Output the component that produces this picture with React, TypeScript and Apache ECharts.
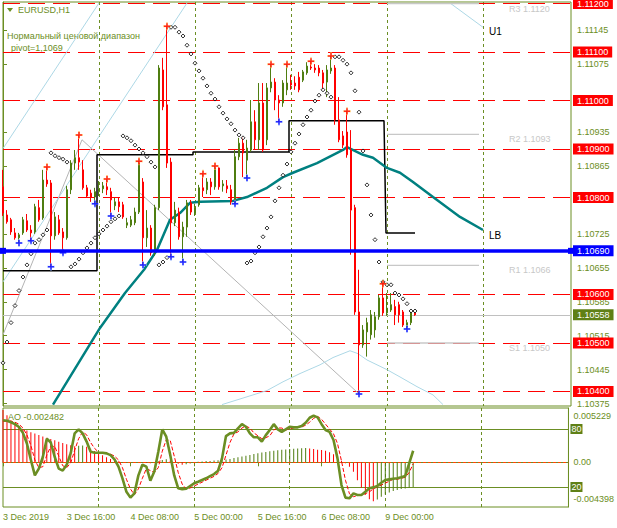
import React, { useEffect, useRef } from 'react';
import * as echarts from 'echarts';

const FONT = '"Liberation Sans", Arial, sans-serif';
const OLIVE = '#6b8e23';
const BULL = '#4f7d10';
const BEAR = '#ff0000';

// ---------- time axis ----------
const dateLabels = ['3 Dec 2019', '3 Dec 16:00', '4 Dec 08:00', '5 Dec 00:00', '5 Dec 16:00', '6 Dec 08:00', '9 Dec 00:00'];
const labelStep = 16;
const dayStep = 24;
const slotCount = 143;

// ---------- EURUSD H1 candles ----------
const opens = [
  1.10822, 1.10764, 1.10754, 1.10727, 1.10717, 1.10727, 1.10752, 1.10733, 1.10729, 1.10779,
  1.10758, 1.10836, 1.10830, 1.10721, 1.10754, 1.10729, 1.10717, 1.10816, 1.10871, 1.10882,
  1.10857, 1.10820, 1.10809, 1.10801, 1.10812, 1.10818, 1.10822, 1.10812, 1.10783, 1.10791,
  1.10785, 1.10743, 1.10743, 1.10748, 1.10770, 1.10832, 1.10717, 1.10737, 1.10686, 1.10779,
  1.11063, 1.10991, 1.10873, 1.10748, 1.10770, 1.10719, 1.10739, 1.10789, 1.10768, 1.10785,
  1.10820, 1.10816, 1.10832, 1.10822, 1.10861, 1.10824, 1.10824, 1.10816, 1.10789, 1.10884,
  1.10912, 1.10877, 1.10898, 1.10956, 1.10919, 1.10995, 1.10919, 1.11026, 1.11038, 1.11001,
  1.10995, 1.11022, 1.11036, 1.11036, 1.11048, 1.11042, 1.11057, 1.11069, 1.11067, 1.11067,
  1.11057, 1.11038, 1.11061, 1.11067, 1.10960, 1.10927, 1.10935, 1.10898, 1.10779, 1.10564,
  1.10496, 1.10523, 1.10517, 1.10527, 1.10554, 1.10593, 1.10562, 1.10568, 1.10575, 1.10579,
  1.10564, 1.10533, 1.10542, 1.10562,
];
const closes = [
  1.10768, 1.10750, 1.10729, 1.10717, 1.10723, 1.10754, 1.10733, 1.10727, 1.10781, 1.10754,
  1.10836, 1.10828, 1.10721, 1.10760, 1.10727, 1.10717, 1.10816, 1.10871, 1.10882, 1.10873,
  1.10820, 1.10803, 1.10801, 1.10812, 1.10818, 1.10824, 1.10816, 1.10795, 1.10791, 1.10781,
  1.10760, 1.10748, 1.10754, 1.10770, 1.10871, 1.10717, 1.10737, 1.10686, 1.10779, 1.11067,
  1.10987, 1.10871, 1.10748, 1.10774, 1.10719, 1.10739, 1.10789, 1.10770, 1.10779, 1.10820,
  1.10814, 1.10832, 1.10822, 1.10861, 1.10822, 1.10828, 1.10818, 1.10791, 1.10884, 1.10912,
  1.10892, 1.10902, 1.10956, 1.10919, 1.10995, 1.10898, 1.11026, 1.11038, 1.11001, 1.10995,
  1.11036, 1.11036, 1.11032, 1.11030, 1.11022, 1.11059, 1.11071, 1.11067, 1.11063, 1.11057,
  1.11036, 1.11063, 1.11067, 1.10960, 1.10919, 1.10908, 1.10888, 1.10774, 1.10564, 1.10496,
  1.10527, 1.10542, 1.10558, 1.10554, 1.10593, 1.10562, 1.10572, 1.10579, 1.10558, 1.10558,
  1.10537, 1.10542, 1.10562, 1.10558,
];
const lows = [
  1.10762, 1.10746, 1.10723, 1.10713, 1.10706, 1.10723, 1.10729, 1.10711, 1.10725, 1.10750,
  1.10754, 1.10822, 1.10657, 1.10713, 1.10723, 1.10686, 1.10713, 1.10807, 1.10857, 1.10857,
  1.10816, 1.10799, 1.10791, 1.10787, 1.10803, 1.10809, 1.10805, 1.10762, 1.10774, 1.10770,
  1.10756, 1.10737, 1.10739, 1.10743, 1.10766, 1.10661, 1.10698, 1.10680, 1.10680, 1.10774,
  1.10980, 1.10861, 1.10678, 1.10741, 1.10713, 1.10667, 1.10719, 1.10764, 1.10762, 1.10781,
  1.10801, 1.10807, 1.10805, 1.10816, 1.10816, 1.10812, 1.10809, 1.10785, 1.10787, 1.10877,
  1.10842, 1.10840, 1.10894, 1.10898, 1.10898, 1.10894, 1.10908, 1.11017, 1.10980, 1.10956,
  1.10987, 1.11011, 1.11022, 1.11022, 1.11017, 1.11038, 1.11053, 1.11063, 1.11057, 1.11050,
  1.11022, 1.11007, 1.11055, 1.10950, 1.10914, 1.10902, 1.10882, 1.10682, 1.10558, 1.10395,
  1.10490, 1.10472, 1.10507, 1.10511, 1.10548, 1.10556, 1.10556, 1.10564, 1.10537, 1.10542,
  1.10533, 1.10529, 1.10537, 1.10556,
];
const highs = [
  1.10857, 1.10774, 1.10758, 1.10737, 1.10727, 1.10760, 1.10766, 1.10743, 1.10787, 1.10795,
  1.10857, 1.10863, 1.10836, 1.10770, 1.10764, 1.10737, 1.10824, 1.10877, 1.10898, 1.10929,
  1.10877, 1.10826, 1.10816, 1.10820, 1.10834, 1.10832, 1.10838, 1.10820, 1.10799, 1.10799,
  1.10791, 1.10758, 1.10762, 1.10779, 1.10875, 1.10840, 1.10774, 1.10743, 1.10785, 1.11073,
  1.11088, 1.11153, 1.10882, 1.10791, 1.10779, 1.10750, 1.10795, 1.10795, 1.10787, 1.10826,
  1.10849, 1.10840, 1.10840, 1.10865, 1.10862, 1.10836, 1.10836, 1.10826, 1.10898, 1.10923,
  1.10925, 1.10919, 1.11001, 1.10980, 1.11036, 1.11036, 1.11036, 1.11075, 1.11046, 1.11011,
  1.11042, 1.11075, 1.11053, 1.11050, 1.11059, 1.11063, 1.11079, 1.11081, 1.11075, 1.11073,
  1.11063, 1.11073, 1.11092, 1.11073, 1.11007, 1.10937, 1.10978, 1.10939, 1.10785, 1.10651,
  1.10537, 1.10552, 1.10568, 1.10564, 1.10599, 1.10622, 1.10603, 1.10603, 1.10589, 1.10585,
  1.10568, 1.10548, 1.10566, 1.10564,
];

// ---------- Parabolic SAR ----------
const sar = [
  1.10459, 1.10502, 1.10542, 1.10577, 1.10608, 1.10636, 1.10661, 1.10684, 1.10706, 1.10713,
  1.10723, 1.10733, 1.10892, 1.10886, 1.10882, 1.10879, 1.10873, 1.10657, 1.10663, 1.10673,
  1.10686, 1.10696, 1.10706, 1.10717, 1.10725, 1.10733, 1.10741, 1.10750, 1.10756, 1.10762,
  1.10927, 1.10923, 1.10917, 1.10908, 1.10900, 1.10892, 1.10884, 1.10873, 1.10863, 1.10661,
  1.10667, 1.10676, 1.11151, 1.11151, 1.11141, 1.11133, 1.11114, 1.11096, 1.11077, 1.11061,
  1.11046, 1.11030, 1.11015, 1.11003, 1.10987, 1.10974, 1.10962, 1.10952, 1.10939, 1.10929,
  1.10923, 1.10665, 1.10669, 1.10686, 1.10698, 1.10719, 1.10737, 1.10760, 1.10793, 1.10820,
  1.10846, 1.10869, 1.10894, 1.10912, 1.10931, 1.10950, 1.10966, 1.10980, 1.10999, 1.11011,
  1.11022, 1.11015, 1.11007, 1.11090, 1.11090, 1.11083, 1.11075, 1.11057, 1.11020, 1.10976,
  1.10896, 1.10826, 1.10764, 1.10713, 1.10667, 1.10626, 1.10620, 1.10620, 1.10603, 1.10599,
  1.10591, 1.10581, 1.10566, 1.10566,
];

// ---------- fractals [bar, price] ----------
const upFractals = [
  [11, 1.10863], [19, 1.10929], [26, 1.10838], [34, 1.10875], [41, 1.11153], [50, 1.10849],
  [53, 1.10865], [67, 1.11075], [71, 1.11075], [77, 1.11081], [82, 1.11092], [86, 1.10978], [95, 1.10622],
];
const downFractals = [
  [4, 1.10706], [7, 1.10711], [12, 1.10657], [15, 1.10686], [23, 1.10787], [27, 1.10762],
  [35, 1.10661], [42, 1.10678], [45, 1.10667], [58, 1.10787], [61, 1.10840], [69, 1.10956],
  [89, 1.10395], [101, 1.10529],
];

// ---------- lines [bar, price] ----------
const maLB = [
  [12.5, 1.10373], [24.25, 1.10531], [30.5, 1.10603], [35.25, 1.10651], [38.5, 1.10692], [41.75, 1.10754],
  [44.25, 1.10768], [46.75, 1.10789], [49.25, 1.10791], [57.5, 1.10793], [61, 1.10801], [66, 1.1082],
  [70, 1.10842], [72.5, 1.10851], [78.5, 1.10871], [85, 1.10898], [86, 1.10904], [90, 1.10888],
  [92.5, 1.10882], [96, 1.10861], [99.25, 1.10851], [102.5, 1.10832], [107.5, 1.10801], [114.25, 1.1076],
  [120, 1.10733],
];
const rangeLine = [
  [0, 1.10649], [23.5, 1.10649], [23.5, 1.10888], [47.5, 1.10888], [47.5, 1.10894], [71.5, 1.10894],
  [71.5, 1.10958], [95.25, 1.10958], [95.75, 1.10727], [103, 1.10727],
];
const trendGray = [[0, 1.10517], [19.75, 1.10919], [88.75, 1.10397]];
const channelUpperA = [[0, 1.10901], [24, 1.11201]];
const channelUpperB = [[0, 1.10626], [46, 1.11201]];
const lowerCurve = [
  [54.75, 1.10373], [61.75, 1.10391], [66, 1.10402], [70, 1.1042], [74.25, 1.10437], [79.25, 1.10455],
  [82.5, 1.1047], [86.75, 1.10484], [88.75, 1.10478], [91, 1.10465], [96, 1.10445], [99.25, 1.1043],
  [103.5, 1.1041], [107.5, 1.10393], [110, 1.10373],
];
const u1Line = [[111.75, 1.11201], [120, 1.11151]];

// ---------- levels ----------
const priceTicks = [1.10375, 1.10445, 1.10515, 1.10585, 1.10655, 1.10725, 1.10795, 1.10865, 1.10935, 1.11075, 1.11145];
const redLevels = [1.112, 1.111, 1.110, 1.109, 1.108, 1.106, 1.105, 1.104];
const pivotLevel = 1.1069;
const lastPrice = 1.10558;
const pivotNames = ['R3', 'R2', 'R1', 'S1'];
const pivotValues = [1.112, 1.1093, 1.1066, 1.105];
const pivotSpan = [96, 119];

// ---------- sub window ----------
const ao = [
  0.005229, 0.0047, 0.0042, 0.00375, 0.00355, 0.0033, 0.00318, 0.003, 0.00288, 0.00272,
  0.00258, 0.00245, 0.00232, 0.0022, 0.00205, 0.00192, 0.0018, 0.0017, 0.0016, 0.00165,
  0.00168, 0.00155, 0.00135, 0.00112, 0.0009, 0.0007, 0.0005, 0.00032, 0.00018, 0.00008,
  0.00003, -0.00002, -0.00005, -0.00003, 0.00004, -0.00002, -0.00006, -0.00009, -0.00004, 0.0001,
  0.00022, 0.0003, 0.00018, -0.00005, -0.00015, -0.00025, -0.0002, -0.00012, -0.00004, 0.00005,
  0.00008, 0.00012, 0.00014, 0.00018, 0.0002, 0.00024, 0.00028, 0.00034, 0.00042, 0.0005,
  0.00058, 0.00066, 0.00074, 0.00082, 0.0009, 0.00097, 0.00104, 0.0011, 0.00116, 0.0012,
  0.00125, 0.00129, 0.00132, 0.00135, 0.00138, 0.0014, 0.00142, 0.00139, 0.00133, 0.00126,
  0.00122, 0.00115, 0.001, 0.0008, 0.00045, 0.00015, -0.0001, -0.00045, -0.00095, -0.0018,
  -0.00255, -0.00325, -0.0037, -0.0039, -0.00372, -0.00345, -0.00322, -0.00303, -0.00288, -0.00276,
  -0.00268, -0.00262, -0.00256, -0.00248,
];
const stochMain = [
  89, 88.5, 87, 85, 82, 76, 65, 48, 32, 39, 51, 70, 66, 51, 39, 37, 43, 55, 75.5, 79.6,
  75.5, 67, 56.5, 55.4, 55.4, 55.4, 54.8, 53, 48.6, 41, 29, 15, 9, 13.4, 32, 43, 41, 26.5, 36, 56.5,
  79.6, 72, 53, 32, 18.6, 17.6, 18.2, 21, 23.8, 25.4, 27.2, 29, 31.3, 33.4, 36.8, 49.6, 72.7, 75.5, 76, 80.7,
  85, 82.3, 75.5, 71.4, 71.4, 67, 73.7, 79, 85, 79.6, 77, 79.6, 82.3, 81.7, 81.7, 83, 86.5, 91.6, 93.7, 92,
  85, 79, 77, 68.6, 49.6, 22, 9, 8.3, 13.4, 11.7, 11.7, 15, 18.6, 19.6, 21, 24.4, 27.2, 27.9, 28.5, 29,
  30, 31.3, 44.5, 57.5,
];
const stochSignal = [
  88, 88, 88, 87, 85, 81, 74, 63, 48, 40, 41, 53, 62, 62, 52, 42, 40, 45, 58, 70,
  77, 74, 66, 60, 56, 55, 55, 54, 52, 48, 40, 28, 18, 12, 18, 29, 39, 37, 35, 40,
  57, 69, 68, 52, 35, 23, 18, 19, 21, 23, 25, 27, 29, 31, 34, 40, 53, 66, 75, 77,
  81, 83, 81, 76, 73, 70, 71, 73, 79, 81, 81, 79, 80, 81, 82, 82, 84, 87, 91, 93,
  90, 85, 80, 75, 65, 47, 27, 13, 10, 11, 12, 13, 15, 18, 20, 22, 24, 26, 28, 28,
  29, 30, 35, 44,
];
const aoTicks = [0.005229, 0, -0.004398];
const stochLevels = [80, 20];

function buildOption() {
  const cats = Array.from({ length: slotCount }, (_, i) => String(i));
  const candleData = opens.map((o, i) => [o, closes[i], lows[i], highs[i]]);
  const aoData = ao.map((v, i) => ({ value: v, itemStyle: { color: i > 0 && v > ao[i - 1] ? BULL : BEAR } }));
  const plus = 'path://M3,0H5V3H8V5H5V8H3V5H0V3H3Z';
  const lineBase = { type: 'line', symbol: 'none', silent: true, xAxisIndex: 1, yAxisIndex: 0 };
  const boxLabel = (text: string, bg: string) => ({
    show: true, position: 'end', distance: 2, formatter: text, backgroundColor: bg, color: '#ffffff',
    padding: [1, 4, 1, 4], fontSize: 9, lineHeight: 9, fontFamily: FONT,
  });
  const daySplit = {
    show: true,
    interval: (idx: number) => idx > 0 && idx % dayStep === 0,
    lineStyle: { color: OLIVE, type: [3, 3], width: 1 },
  };

  const series: any[] = [
    {
      ...lineBase, data: trendGray, lineStyle: { color: '#b4b4b4', width: 1 }, z: 2,
      markLine: {
        silent: true, symbol: 'none', z: 1, animation: false, precision: 6,
        data: redLevels.map((v) => ({
          yAxis: v, lineStyle: { color: '#ff0000', type: [17, 8], width: 1 }, label: boxLabel(v.toFixed(5), '#ff0000'),
        })),
      },
    },
    { ...lineBase, data: channelUpperA, lineStyle: { color: '#add8e6', width: 1 }, z: 2 },
    { ...lineBase, data: channelUpperB, lineStyle: { color: '#add8e6', width: 1 }, z: 2 },
    {
      ...lineBase, data: lowerCurve, lineStyle: { color: '#add8e6', width: 1 }, z: 2,
      markLine: {
        silent: true, symbol: 'none', z: 2, animation: false, precision: 6,
        data: [{
          yAxis: lastPrice, lineStyle: { color: '#c0c0c0', type: 'solid', width: 1 },
          label: boxLabel(lastPrice.toFixed(5), '#5f8016'),
        }],
      },
    },
    {
      ...lineBase, data: u1Line, lineStyle: { color: '#add8e6', width: 1 }, z: 2,
      endLabel: { show: true, formatter: 'U1', color: '#000', fontSize: 10, fontFamily: FONT, distance: 6, offset: [0, 4] },
    },
    { ...lineBase, data: rangeLine, lineStyle: { color: '#000000', width: 1.5 }, z: 2 },
    ...pivotNames.map((n, k) => ({
      ...lineBase, z: 2,
      data: [[pivotSpan[0], pivotValues[k]], [pivotSpan[1], pivotValues[k]]],
      lineStyle: { color: '#c8c8c8', width: 1.3 },
      endLabel: {
        show: true, formatter: `${n} ${pivotValues[k].toFixed(4)}`, color: '#c8c8c8', fontSize: 9,
        fontFamily: FONT, distance: 30, offset: [0, 5],
      },
    })),
    {
      ...lineBase, data: maLB, lineStyle: { color: '#008080', width: 2.5 }, z: 3,
      endLabel: { show: true, formatter: 'LB', color: '#000', fontSize: 10, fontFamily: FONT, distance: 6, offset: [0, 6] },
    },
    {
      type: 'candlestick', xAxisIndex: 0, yAxisIndex: 0, data: candleData, barWidth: 2, silent: true, z: 4,
      itemStyle: { color: BULL, color0: BEAR, borderColor: BULL, borderColor0: BEAR, borderWidth: 1 },
    },
    {
      type: 'scatter', xAxisIndex: 0, yAxisIndex: 0, data: sar, symbol: 'diamond', symbolSize: 4, silent: true, z: 6,
      itemStyle: { color: '#ffffff', borderColor: '#000000', borderWidth: 1 },
      markLine: {
        silent: true, z: 8, animation: false, precision: 6, symbol: ['rect', 'rect'], symbolSize: 6,
        data: [{
          yAxis: pivotLevel, lineStyle: { color: '#0000ff', type: 'solid', width: 3.5 },
          label: boxLabel(pivotLevel.toFixed(5), '#0000ff'),
        }],
      },
    },
    { type: 'scatter', xAxisIndex: 1, yAxisIndex: 0, data: upFractals, symbol: plus, symbolSize: 8, silent: true, z: 6, itemStyle: { color: '#ffb347', opacity: 0.6 } },
    { type: 'scatter', xAxisIndex: 1, yAxisIndex: 0, data: upFractals, symbol: plus, symbolSize: 6, silent: true, z: 7, itemStyle: { color: '#ff0000' } },
    { type: 'scatter', xAxisIndex: 1, yAxisIndex: 0, data: downFractals, symbol: plus, symbolSize: 8, silent: true, z: 6, itemStyle: { color: '#8fb0ff', opacity: 0.6 } },
    { type: 'scatter', xAxisIndex: 1, yAxisIndex: 0, data: downFractals, symbol: plus, symbolSize: 6, silent: true, z: 7, itemStyle: { color: '#0000ff' } },
    // sub window
    {
      type: 'bar', xAxisIndex: 2, yAxisIndex: 1, data: aoData, barWidth: 1, silent: true, z: 2,
      markLine: {
        silent: true, symbol: 'none', z: 3, animation: false, label: { show: false }, precision: 6,
        data: [{ yAxis: 0, lineStyle: { color: '#ff4500', type: [3, 2], width: 1 } }],
      },
    },
    {
      type: 'line', xAxisIndex: 2, yAxisIndex: 2, data: stochSignal, symbol: 'none', silent: true, z: 3,
      lineStyle: { color: '#ff0000', width: 1, type: [4, 2] },
    },
    {
      type: 'line', xAxisIndex: 2, yAxisIndex: 2, data: stochMain, symbol: 'none', silent: true, z: 4,
      lineStyle: { color: '#6b8e23', width: 2.6 },
      markLine: {
        silent: true, symbol: 'none', z: 1, animation: false, label: { show: false },
        data: stochLevels.map((v) => ({ yAxis: v, lineStyle: { color: OLIVE, type: 'solid', width: 1 } })),
      },
    },
  ];

  return {
    animation: false,
    backgroundColor: '#ffffff',
    textStyle: { fontFamily: FONT },
    grid: [
      { left: 3, top: 2, width: 568, height: 404, show: true, borderColor: OLIVE, borderWidth: 1, backgroundColor: 'transparent' },
      { left: 3, top: 408, width: 568, height: 99, show: true, borderColor: OLIVE, borderWidth: 1, backgroundColor: 'transparent' },
    ],
    xAxis: [
      {
        type: 'category', gridIndex: 0, data: cats, boundaryGap: false,
        axisLine: { show: false }, axisTick: { show: false }, axisLabel: { show: false }, splitLine: daySplit,
      },
      { type: 'value', gridIndex: 0, min: 0, max: slotCount - 1, show: false, splitLine: { show: false } },
      {
        type: 'category', gridIndex: 1, data: cats, boundaryGap: false, position: 'bottom',
        axisLine: { show: true, lineStyle: { color: OLIVE } },
        axisTick: {
          show: true, length: 4, lineStyle: { color: OLIVE },
          interval: (idx: number) => idx % labelStep === 0 && idx / labelStep < dateLabels.length,
        },
        axisLabel: {
          show: true, color: OLIVE, fontSize: 9, fontFamily: FONT, align: 'left', margin: 5,
          interval: (idx: number) => idx % labelStep === 0 && idx / labelStep < dateLabels.length,
          formatter: (_v: string, idx: number) => dateLabels[idx / labelStep] ?? '',
        },
        splitLine: daySplit,
      },
    ],
    yAxis: [
      {
        type: 'value', gridIndex: 0, position: 'right', min: 1.103701, max: 1.112031,
        axisLine: { show: true, lineStyle: { color: OLIVE } },
        axisTick: { show: true, length: 4, lineStyle: { color: OLIVE }, customValues: priceTicks },
        axisLabel: { show: true, color: OLIVE, fontSize: 9, fontFamily: FONT, margin: 6, customValues: priceTicks, formatter: (v: number) => v.toFixed(5) },
        splitLine: { show: false },
      },
      {
        type: 'value', gridIndex: 1, position: 'right', min: -0.004468, max: 0.005429,
        axisLine: { show: true, lineStyle: { color: OLIVE } },
        axisTick: { show: false },
        axisLabel: {
          show: true, color: OLIVE, fontSize: 9, fontFamily: FONT, margin: 5, customValues: aoTicks,
          formatter: (v: number) => (v > 0 ? `{t|${v.toFixed(6)}}` : v < 0 ? `{b|${v.toFixed(6)}}` : '0.00'),
          rich: {
            t: { padding: [12, 0, 0, 0], color: OLIVE, fontSize: 9, fontFamily: FONT },
            b: { padding: [0, 0, 14, 0], color: OLIVE, fontSize: 9, fontFamily: FONT },
          },
        },
        splitLine: { show: false },
      },
      {
        type: 'value', gridIndex: 1, position: 'right', min: -0.69, max: 101.72,
        axisLine: { show: false }, axisTick: { show: false },
        axisLabel: {
          show: true, customValues: stochLevels, color: '#ffffff', backgroundColor: '#5f8016',
          fontSize: 9, fontFamily: FONT, margin: 2, padding: [1, 1, 0, 1], formatter: (v: number) => String(v),
        },
        splitLine: { show: false },
      },
    ],
    graphic: [
      { type: 'polygon', shape: { points: [[7, 8], [13, 8], [10, 12]] }, style: { fill: OLIVE }, silent: true },
      { type: 'text', x: 18, y: 10, style: { text: 'EURUSD,H1', fill: OLIVE, fontSize: 9, fontFamily: FONT, verticalAlign: 'middle' }, silent: true },
      { type: 'text', x: 7, y: 36, style: { text: 'Нормальный ценовой диапазон', fill: OLIVE, fontSize: 9, fontFamily: FONT, verticalAlign: 'middle' }, silent: true },
      { type: 'text', x: 11, y: 48, style: { text: 'pivot=1,1069', fill: OLIVE, fontSize: 9, fontFamily: FONT, verticalAlign: 'middle' }, silent: true },
      { type: 'text', x: 8, y: 417, style: { text: 'AO -0.002482', fill: OLIVE, fontSize: 9, fontFamily: FONT, verticalAlign: 'middle' }, silent: true },
    ],
    series,
  };
}

export default function App() {
  const ref = useRef<HTMLDivElement>(null);
  useEffect(() => {
    if (!ref.current) return;
    const chart = echarts.init(ref.current, null, { renderer: 'svg' });
    chart.setOption(buildOption() as any);
    return () => chart.dispose();
  }, []);
  return <div ref={ref} style={{ position: 'absolute', left: 0, top: 0, width: 617, height: 528, background: '#fff' }} />;
}
